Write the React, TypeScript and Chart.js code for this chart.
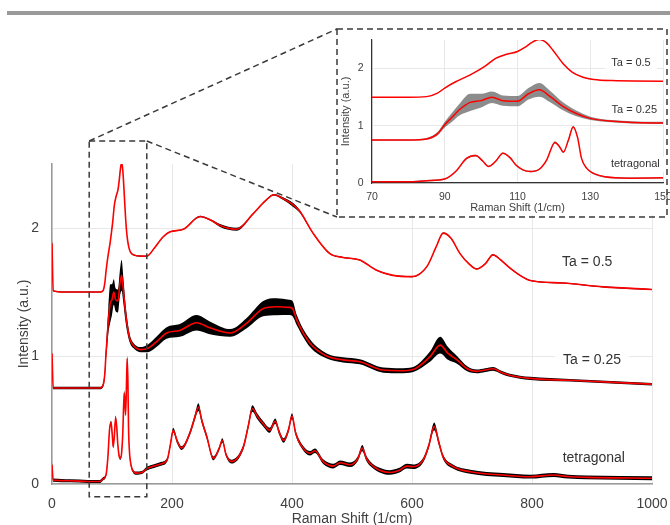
import React, { useEffect, useRef } from "react";
import { Chart, registerables } from "chart.js";

Chart.register(...registerables);

const FONT = '"Liberation Sans", Arial, Helvetica, sans-serif';

// ---------------- data (Raman spectra) ----------------
// Ta = 0.5
const ta05X = [0, 2, 20, 50, 80, 85, 88, 90, 93, 97, 101, 104, 107, 110, 112, 114, 116, 118, 120, 122.5, 125, 128, 131, 136, 150, 158, 170, 185, 197, 219, 247, 265, 280, 308, 335, 355, 370, 385, 402, 413, 435, 463, 485, 513, 541, 568, 600, 625, 640, 652, 665, 680, 695, 708, 722, 735, 748, 760, 780, 797, 852, 919, 1000];
const ta05Y = [1.88, 1.51, 1.5, 1.5, 1.5, 1.51, 1.57, 1.66, 1.77, 1.89, 2.04, 2.18, 2.25, 2.3, 2.37, 2.46, 2.51, 2.45, 2.3, 2.09, 1.94, 1.85, 1.81, 1.79, 1.78, 1.78, 1.84, 1.93, 1.97, 1.99, 2.09, 2.06, 2.02, 1.99, 2.11, 2.21, 2.26, 2.23, 2.18, 2.13, 1.96, 1.8, 1.77, 1.75, 1.67, 1.63, 1.62, 1.7, 1.85, 1.96, 1.92, 1.8, 1.72, 1.68, 1.72, 1.79, 1.75, 1.7, 1.63, 1.59, 1.57, 1.54, 1.52];
const ta05Err = [0.05, 0.004, 0.004, 0.004, 0.004, 0.004, 0.004, 0.004, 0.004, 0.004, 0.004, 0.004, 0.004, 0.004, 0.004, 0.004, 0.004, 0.004, 0.004, 0.004, 0.004, 0.004, 0.004, 0.004, 0.004, 0.004, 0.004, 0.004, 0.004, 0.004, 0.006, 0.006, 0.012, 0.012, 0.005, 0.005, 0.006, 0.01, 0.015, 0.01, 0.004, 0.004, 0.004, 0.004, 0.004, 0.004, 0.004, 0.004, 0.004, 0.004, 0.004, 0.004, 0.004, 0.004, 0.004, 0.004, 0.004, 0.004, 0.004, 0.004, 0.004, 0.004, 0.004];

// Ta = 0.25
const ta025X = [0, 2, 20, 50, 80, 85, 88, 90, 92, 94, 97, 100, 103, 106, 110, 113, 116, 119, 122.5, 126, 130, 136, 147, 160, 174, 191, 213, 241, 263, 297, 324, 352, 374, 395, 401, 408, 430, 458, 485, 513, 552, 580, 602, 630, 647, 660, 675, 692, 708, 722, 735, 750, 763, 797, 863, 1000];
const ta025Y = [1.02, 0.75, 0.75, 0.75, 0.75, 0.77, 0.86, 1.02, 1.15, 1.28, 1.41, 1.44, 1.5, 1.44, 1.43, 1.56, 1.63, 1.51, 1.34, 1.22, 1.13, 1.08, 1.05, 1.06, 1.11, 1.18, 1.2, 1.26, 1.22, 1.18, 1.255, 1.37, 1.385, 1.38, 1.37, 1.28, 1.1, 1.0, 0.97, 0.955, 0.89, 0.885, 0.895, 0.995, 1.085, 1.02, 0.97, 0.9, 0.88, 0.89, 0.9, 0.87, 0.85, 0.825, 0.81, 0.78];
const ta025Err = [0.02, 0.01, 0.01, 0.01, 0.01, 0.015, 0.03, 0.05, 0.08, 0.1, 0.15, 0.12, 0.1, 0.09, 0.09, 0.1, 0.12, 0.1, 0.07, 0.05, 0.03, 0.02, 0.02, 0.03, 0.04, 0.045, 0.05, 0.06, 0.05, 0.03, 0.04, 0.06, 0.066, 0.06, 0.06, 0.04, 0.03, 0.02, 0.02, 0.02, 0.02, 0.02, 0.02, 0.04, 0.065, 0.05, 0.03, 0.02, 0.015, 0.015, 0.015, 0.012, 0.012, 0.012, 0.01, 0.01];

// tetragonal
const tetX = [0, 2, 30, 60, 80, 85, 90, 93, 96, 98.5, 100.5, 102, 104, 106, 108, 109.5, 111.5, 113.5, 116, 118, 120.3, 121.5, 122.6, 124, 125.3, 126.5, 127.6, 129, 130.5, 134, 141, 150, 158, 170, 180, 192, 197, 202, 209, 216, 230, 238, 244, 250, 258, 269, 278, 284, 290, 299, 319, 327, 334, 342, 352, 363, 372, 379, 386, 394, 400, 406, 413, 430, 438, 452, 469, 480, 497, 510, 517, 524, 530, 545, 563, 580, 591, 602, 619, 628, 637, 645, 652, 669, 697, 752, 797, 836, 860, 891, 1000];
const tetY = [0.15, 0.03, 0.025, 0.02, 0.02, 0.04, 0.07, 0.2, 0.43, 0.48, 0.38, 0.29, 0.38, 0.52, 0.44, 0.32, 0.23, 0.2, 0.24, 0.4, 0.71, 0.64, 0.54, 0.75, 0.98, 0.8, 0.43, 0.26, 0.18, 0.11, 0.085, 0.09, 0.12, 0.14, 0.155, 0.19, 0.3, 0.42, 0.33, 0.28, 0.4, 0.52, 0.6, 0.49, 0.37, 0.2, 0.27, 0.34, 0.23, 0.175, 0.29, 0.45, 0.59, 0.53, 0.47, 0.42, 0.49, 0.4, 0.34, 0.42, 0.53, 0.4, 0.32, 0.24, 0.26, 0.175, 0.14, 0.166, 0.15, 0.2, 0.28, 0.2, 0.16, 0.11, 0.09, 0.11, 0.14, 0.135, 0.19, 0.3, 0.45, 0.32, 0.21, 0.135, 0.096, 0.07, 0.057, 0.07, 0.058, 0.052, 0.045];
const tetErr = [0.02, 0.012, 0.012, 0.012, 0.012, 0.012, 0.012, 0.012, 0.015, 0.015, 0.015, 0.012, 0.015, 0.015, 0.015, 0.012, 0.012, 0.012, 0.012, 0.015, 0.02, 0.015, 0.015, 0.02, 0.02, 0.015, 0.015, 0.012, 0.012, 0.012, 0.012, 0.012, 0.015, 0.015, 0.015, 0.015, 0.018, 0.02, 0.018, 0.015, 0.018, 0.022, 0.03, 0.022, 0.018, 0.015, 0.015, 0.018, 0.015, 0.015, 0.018, 0.022, 0.025, 0.022, 0.02, 0.02, 0.022, 0.02, 0.018, 0.02, 0.022, 0.02, 0.018, 0.018, 0.018, 0.018, 0.018, 0.018, 0.018, 0.018, 0.025, 0.02, 0.018, 0.018, 0.018, 0.018, 0.018, 0.018, 0.018, 0.02, 0.03, 0.022, 0.018, 0.015, 0.015, 0.015, 0.015, 0.015, 0.015, 0.015, 0.015];

const seriesLabels = ["Ta = 0.5", "Ta = 0.25", "tetragonal"];
const SERIES = [
  { x: ta05X, y: ta05Y, err: ta05Err },
  { x: ta025X, y: ta025Y, err: ta025Err },
  { x: tetX, y: tetY, err: tetErr },
];

// axis ranges / ticks
const MAIN_X = { min: 0, max: 1000, step: 200 };
const MAIN_Y = { min: 0, max: 2.5, step: 1 };
const INSET_X = { min: 70, max: 150, step: 20 };
const INSET_Y = { min: 0, max: 2.5, step: 1 };
const X_TITLE = "Raman Shift (1/cm)";
const Y_TITLE = "Intensity (a.u.)";

// label anchors (data units)
const mainLabelX = [892, 900, 903];
const mainLabelY = [1.73, 0.97, 0.2];
const insetLabelX = [141.2, 142.1, 142.4];
const insetLabelY = [2.1, 1.28, 0.33];

// zoom region drawn on the main chart (data units)
const ZOOM_X = [62, 158];
const ZOOM_Y = [-0.1, 2.68];

// layout (page pixels)
const W = 670;
const H = 525;
const INSET_BOX = { left: 337, top: 29, right: 667, bottom: 217 };
const INSET_CANVAS = { left: 339, top: 31, width: 331, height: 184, innerWidth: 326 };

const RED = "rgb(255,0,0)";
const TXT = "#404040";

function buildDatasets(bandColor: string, lineWidth: number) {
  const out: any[] = [];
  SERIES.forEach((s) => {
    const upper = s.x.map((x, i) => ({ x, y: s.y[i] + s.err[i] }));
    const lower = s.x.map((x, i) => ({ x, y: s.y[i] - s.err[i] }));
    const mid = s.x.map((x, i) => ({ x, y: s.y[i] }));
    const common = { pointRadius: 0, pointHoverRadius: 0, cubicInterpolationMode: "monotone" };
    out.push({ ...common, order: 1, data: upper, borderColor: "rgba(0,0,0,0)", borderWidth: 0.01, fill: false });
    out.push({ ...common, order: 1, data: lower, borderColor: "rgba(0,0,0,0)", borderWidth: 0.01, fill: "-1", backgroundColor: bandColor });
    out.push({ ...common, order: 0, data: mid, borderColor: RED, borderWidth: lineWidth, fill: false });
  });
  return out;
}

function drawLabels(chart: any, xs: number[], ys: number[], size: number, padX: number, padY: number) {
  const { ctx, scales } = chart;
  ctx.save();
  ctx.font = `${size}px ${FONT}`;
  ctx.textAlign = "center";
  ctx.textBaseline = "middle";
  seriesLabels.forEach((t, i) => {
    const px = scales.x.getPixelForValue(xs[i]);
    const py = scales.y.getPixelForValue(ys[i]);
    const w = ctx.measureText(t).width;
    ctx.fillStyle = "#fff";
    ctx.fillRect(px - w / 2 - padX, py - size / 2 - padY, w + 2 * padX, size + 2 * padY);
    ctx.fillStyle = "#333";
    ctx.fillText(t, px, py);
  });
  ctx.restore();
}

const mainOverlay = {
  id: "mainOverlay",
  afterDatasetsDraw(chart: any) {
    drawLabels(chart, mainLabelX, mainLabelY, 14, 8, 3);
  },
  afterDraw(chart: any) {
    const { ctx, scales } = chart;
    const x0 = scales.x.getPixelForValue(ZOOM_X[0]);
    const x1 = scales.x.getPixelForValue(ZOOM_X[1]);
    const yb = scales.y.getPixelForValue(ZOOM_Y[0]);
    const yt = scales.y.getPixelForValue(ZOOM_Y[1]);
    ctx.save();
    ctx.strokeStyle = "#3a3a3a";
    ctx.lineWidth = 1.5;
    ctx.setLineDash([6, 4]);
    ctx.strokeRect(x0, yt, x1 - x0, yb - yt);
    ctx.beginPath();
    ctx.moveTo(x0, yt);
    ctx.lineTo(INSET_BOX.left, INSET_BOX.top);
    ctx.moveTo(x1, yt);
    ctx.lineTo(INSET_BOX.left, INSET_BOX.bottom);
    ctx.stroke();
    ctx.strokeRect(INSET_BOX.left, INSET_BOX.top, INSET_BOX.right - INSET_BOX.left, INSET_BOX.bottom - INSET_BOX.top);
    ctx.restore();
  },
};

const insetOverlay = {
  id: "insetOverlay",
  beforeDraw(chart: any) {
    const { ctx } = chart;
    ctx.save();
    ctx.fillStyle = "#fff";
    ctx.fillRect(0, 0, INSET_CANVAS.innerWidth, INSET_CANVAS.height);
    ctx.restore();
  },
  afterDatasetsDraw(chart: any) {
    drawLabels(chart, insetLabelX, insetLabelY, 11, 6, 2);
  },
};

const plainTick = (v: any) => String(v);

export default function App() {
  const mainRef = useRef<HTMLCanvasElement>(null);
  const insetRef = useRef<HTMLCanvasElement>(null);

  useEffect(() => {
    Chart.defaults.font.family = FONT;
    const main = new Chart(mainRef.current as HTMLCanvasElement, {
      type: "line",
      data: { datasets: buildDatasets("#000", 1.6) },
      plugins: [mainOverlay],
      options: {
        animation: false,
        responsive: false,
        events: [],
        layout: { padding: { left: 0, top: 164, right: 18, bottom: 0 } },
        plugins: { legend: { display: false }, tooltip: { enabled: false } },
        scales: {
          x: {
            type: "linear",
            min: MAIN_X.min,
            max: MAIN_X.max,
            ticks: { stepSize: MAIN_X.step, padding: 11.5, color: TXT, font: { size: 14 }, maxRotation: 0, callback: plainTick },
            grid: { color: "#e8e8e8", lineWidth: 1, drawTicks: false },
            border: { color: "#9a9a9a", width: 1.5 },
            title: { display: true, text: X_TITLE, color: TXT, font: { size: 14 }, padding: { top: 0, bottom: -3 } },
            afterFit(s: any) { s.height = 41; s.paddingLeft = 0; s.paddingRight = 0; },
          },
          y: {
            type: "linear",
            min: MAIN_Y.min,
            max: MAIN_Y.max,
            ticks: { stepSize: MAIN_Y.step, includeBounds: false, padding: 13, color: TXT, font: { size: 14 }, callback: plainTick },
            grid: { color: "#e8e8e8", lineWidth: 1, drawTicks: false },
            border: { color: "#9a9a9a", width: 1.5 },
            title: { display: true, text: Y_TITLE, color: TXT, font: { size: 14 }, padding: { top: 16, bottom: 0 } },
            afterFit(s: any) { s.width = 52; s.paddingTop = 0; s.paddingBottom = 0; },
          },
        },
      } as any,
    });

    const inset = new Chart(insetRef.current as HTMLCanvasElement, {
      type: "line",
      data: { datasets: buildDatasets("rgba(0,0,0,0.45)", 1.5) },
      plugins: [insetOverlay],
      options: {
        animation: false,
        responsive: false,
        events: [],
        layout: { padding: { left: 0, top: 9, right: 7, bottom: 0 } },
        plugins: { legend: { display: false }, tooltip: { enabled: false } },
        scales: {
          x: {
            type: "linear",
            min: INSET_X.min,
            max: INSET_X.max,
            ticks: { stepSize: INSET_X.step, padding: 7.5, color: TXT, font: { size: 10.5 }, maxRotation: 0, callback: plainTick },
            grid: { color: "#e8e8e8", lineWidth: 1, drawTicks: false },
            border: { color: "#333", width: 1.2 },
            title: { display: true, text: X_TITLE, color: TXT, font: { size: 11 }, padding: { top: 0, bottom: 0 } },
            afterFit(s: any) { s.height = 32; s.paddingLeft = 0; s.paddingRight = 0; },
          },
          y: {
            type: "linear",
            min: INSET_Y.min,
            max: INSET_Y.max,
            ticks: { stepSize: INSET_Y.step, includeBounds: false, padding: 8.5, color: TXT, font: { size: 10.5 }, callback: plainTick },
            grid: { color: "#e8e8e8", lineWidth: 1, drawTicks: false },
            border: { color: "#333", width: 1.2 },
            title: { display: true, text: Y_TITLE, color: TXT, font: { size: 11 }, padding: { top: 0, bottom: 0 } },
            afterFit(s: any) { s.width = 33; s.paddingTop = 0; s.paddingBottom = 0; },
          },
        },
      } as any,
    });

    return () => {
      main.destroy();
      inset.destroy();
    };
  }, []);

  return (
    <div style={{ position: "absolute", left: 0, top: 0, width: W, height: H, overflow: "hidden", background: "#fff" }}>
      <div style={{ position: "absolute", left: 7, top: 11, width: W - 7, height: 4, background: "#9a9a9a" }} />
      <canvas ref={mainRef} width={W} height={H} style={{ position: "absolute", left: 0, top: 0, display: "block" }} />
      <canvas
        ref={insetRef}
        width={INSET_CANVAS.width}
        height={INSET_CANVAS.height}
        style={{ position: "absolute", left: INSET_CANVAS.left, top: INSET_CANVAS.top, display: "block" }}
      />
    </div>
  );
}
